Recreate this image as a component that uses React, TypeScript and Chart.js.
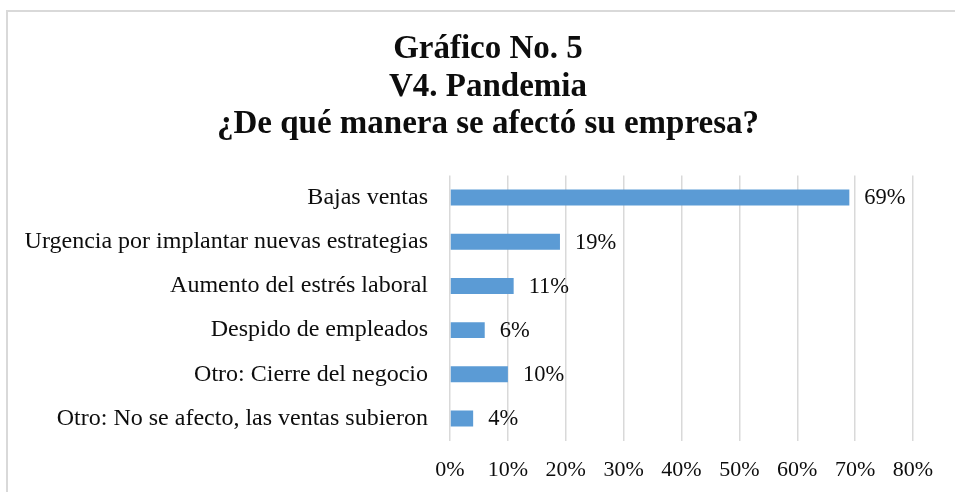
import React, { useEffect, useRef } from "react";
import { Chart, registerables } from "chart.js";

Chart.register(...registerables);

const categories = [
  "Bajas ventas",
  "Urgencia por implantar nuevas estrategias",
  "Aumento del estrés laboral",
  "Despido de empleados",
  "Otro: Cierre del negocio",
  "Otro: No se afecto, las ventas subieron",
];
const values = [69, 19, 11, 6, 10, 4];
const titleLines = ["Gráfico No. 5", "V4. Pandemia", "¿De qué manera se afectó su empresa?"];
const xTickMax = 80;
const xTickStep = 10;

const FONT = "'Liberation Serif', 'Times New Roman', serif";
const TEXT = "#0d0d0d";

const valueLabels = {
  id: "valueLabels",
  afterDatasetsDraw(chart: any) {
    const ctx = chart.ctx;
    const meta = chart.getDatasetMeta(0);
    ctx.save();
    ctx.font = `22.5px ${FONT}`;
    ctx.fillStyle = TEXT;
    ctx.textAlign = "left";
    ctx.textBaseline = "middle";
    meta.data.forEach((bar: any, i: number) => {
      ctx.fillText(`${values[i]}%`, bar.x + 15, bar.y + 1);
    });
    ctx.restore();
  },
};

// let the category labels extend left of the centred-title padding without clipping
const widenLabelArea = {
  id: "widenLabelArea",
  afterLayout(chart: any) {
    if (chart.scales.y) chart.scales.y.left = 0;
  },
};

export default function App() {
  const ref = useRef<HTMLCanvasElement | null>(null);
  useEffect(() => {
    if (!ref.current) return;
    const chart = new Chart(ref.current, {
      type: "bar",
      data: {
        labels: categories,
        datasets: [
          {
            data: values,
            backgroundColor: "#5B9BD5",
            borderWidth: 0,
            barPercentage: 0.36,
            categoryPercentage: 1,
          },
        ],
      },
      options: {
        indexAxis: "y",
        responsive: false,
        animation: false,
        devicePixelRatio: 1,
        layout: { padding: { left: 55, right: 55, top: 0, bottom: 12 } },
        plugins: {
          legend: { display: false },
          tooltip: { enabled: false },
          title: {
            display: true,
            text: titleLines,
            color: TEXT,
            font: { family: FONT, size: 33, weight: "bold", lineHeight: 1.136 },
            padding: { top: 23, bottom: 32 },
          },
        },
        scales: {
          x: {
            min: 0,
            max: xTickMax,
            grid: { color: "#D9D9D9", lineWidth: 1.5, drawTicks: false },
            border: { display: false },
            ticks: {
              stepSize: xTickStep,
              padding: 16,
              color: TEXT,
              font: { family: FONT, size: 22 },
              callback: (v: any) => `${v}%`,
            },
          },
          y: {
            grid: { display: false, drawTicks: false },
            border: { display: false },
            ticks: {
              padding: 22,
              color: TEXT,
              font: { family: FONT, size: 24 },
              autoSkip: false,
            },
            afterFit: (scale: any) => {
              scale.width = 387;
            },
          },
        },
      },
      plugins: [valueLabels, widenLabelArea],
    });
    return () => chart.destroy();
  }, []);

  return (
    <div>
      <div
        style={{
          position: "fixed",
          left: 6,
          top: 10,
          width: 1200,
          height: 1000,
          border: "2px solid #D9D9D9",
          boxSizing: "border-box",
          pointerEvents: "none",
        }}
      />
      <div style={{ width: 947, height: 484, overflow: "hidden", position: "relative" }}>
        <canvas ref={ref} width={960} height={503} style={{ display: "block" }} />
      </div>
    </div>
  );
}
